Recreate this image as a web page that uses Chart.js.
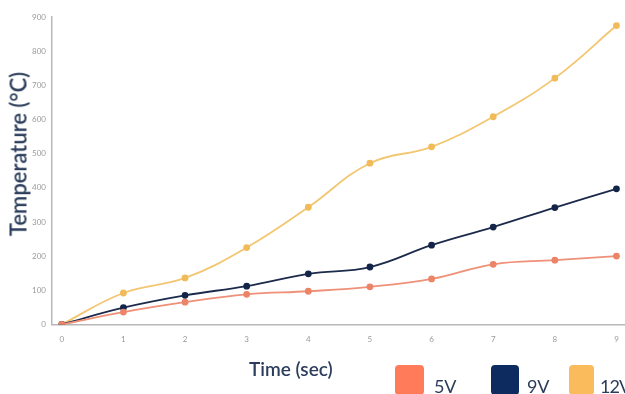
<!DOCTYPE html>
<html>
<head>
  <title>Temperature vs Time</title>
  <script src="https://cdn.jsdelivr.net/npm/chart.js@4.4.0/dist/chart.umd.min.js"></script>
  <style>
    html, body { margin: 0; padding: 0; background: #fff; overflow: hidden; }
    .wrap { position: relative; width: 625px; height: 394px; overflow: hidden; }
    #tempChart { position: absolute; left: 0; top: 0; }
    .ytitle {
      position: absolute; left: 18px; top: 154px;
      transform: translate(-50%, -50%) rotate(-90deg);
      white-space: nowrap; font-family: Lato, sans-serif; font-weight: 600;
      font-size: 22px; color: #2b3d5b;
    }
    .xtitle {
      position: absolute; left: 249px; top: 357px;
      font-family: Lato, sans-serif; font-weight: 600;
      font-size: 19px; color: #2b3d5b; white-space: nowrap;
    }
    #legend {
      position: absolute; left: 0; top: 365px; width: 625px; height: 40px;
      font-family: Lato, sans-serif; font-size: 18px; line-height: 18px; color: #2b3d5b;
    }
    #legend .item { position: absolute; top: 0; display: flex; align-items: flex-start; }
    #legend .box { width: 29px; height: 30px; border-radius: 4px; margin-right: 10px; }
    #legend .txt { margin-top: 12px; white-space: nowrap; letter-spacing: -0.3px; }
    #legend .item:nth-child(1) { left: 395px; }
    #legend .item:nth-child(2) { left: 491px; }
    #legend .item:nth-child(2) .box { width: 28px; margin-right: 8px; }
    #legend .item:nth-child(3) { left: 569px; }
    #legend .item:nth-child(3) .box { width: 25px; margin-right: 6px; }
    #legend .item:nth-child(3) .txt { letter-spacing: -0.9px; }
  </style>
</head>
<body>
  <div class="wrap">
    <canvas id="tempChart" width="650" height="394"></canvas>
    <div class="ytitle">Temperature (°C)</div>
    <div class="xtitle">Time (sec)</div>
    <div id="legend"></div>
  </div>
<script>
// values
var times = [0, 1, 2, 3, 4, 5, 6, 7, 8, 9];
var yTicks = [0, 100, 200, 300, 400, 500, 600, 700, 800, 900];
var temp5V = [0, 36, 65, 88, 97, 110, 133, 176, 188, 200];
var temp9V = [0, 49, 85, 112, 148, 168, 232, 285, 342, 397];
var temp12V = [0, 92, 136, 225, 343, 472, 520, 608, 721, 875];

function toPoints(vals) {
  return times.map(function(t, i) { return { x: t, y: vals[i] }; });
}

function makeSet(label, vals, line, dot, box) {
  return {
    label: label,
    data: toPoints(vals),
    borderColor: line,
    backgroundColor: box,
    pointBackgroundColor: dot,
    pointBorderColor: dot,
    pointRadius: 2.5,
    borderWidth: 1.8,
    tension: 0.4,
    fill: false
  };
}

var ctx = document.getElementById('tempChart').getContext('2d');
var chart = new Chart(ctx, {
  type: 'line',
  data: {
    datasets: [
      makeSet('5V', temp5V, '#ef9078', '#ec8468', '#ff7b5a'),
      makeSet('9V', temp9V, '#1c2b4b', '#14254a', '#0d2b5e'),
      makeSet('12V', temp12V, '#f3c672', '#f0bb58', '#f9bb5c')
    ]
  },
  options: {
    responsive: false,
    animation: false,
    layout: { padding: { left: 26, top: 17, right: 0, bottom: 40 } },
    plugins: {
      tooltip: { enabled: false },
      legend: { display: false }
    },
    scales: {
      x: {
        type: 'linear',
        min: -0.16,
        max: 9.45,
        afterBuildTicks: function(axis) {
          axis.ticks = times.map(function(t) { return { value: t }; });
        },
        grid: { display: false, drawTicks: false },
        border: { color: '#b8b8b8', width: 1.5 },
        ticks: { color: '#9a9a9a', font: { family: 'Lato', size: 8 }, padding: 10 }
      },
      y: {
        min: 0,
        max: 900,
        afterBuildTicks: function(axis) {
          axis.ticks = yTicks.map(function(v) { return { value: v }; });
        },
        grid: { display: false, drawTicks: false },
        border: { color: '#b8b8b8', width: 1.5 },
        ticks: { color: '#9a9a9a', font: { family: 'Lato', size: 8 }, padding: 6 }
      }
    }
  }
});

// legend built from the datasets
var legendEl = document.getElementById('legend');
chart.data.datasets.forEach(function(ds) {
  var item = document.createElement('div');
  item.className = 'item';
  item.innerHTML = '<div class="box" style="background:' + ds.backgroundColor + '"></div>' +
                   '<div class="txt">' + ds.label + '</div>';
  legendEl.appendChild(item);
});
</script>
</body>
</html>
